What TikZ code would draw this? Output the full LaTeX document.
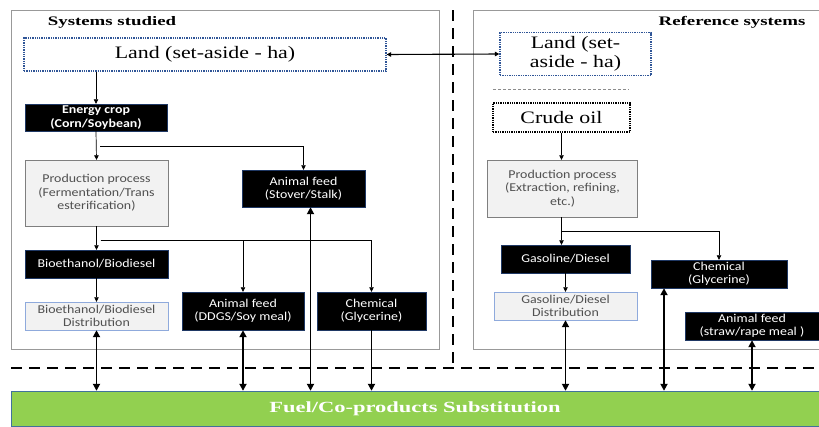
\documentclass[tikz,border=0pt]{standalone}
\usepackage{fontspec}
\setmainfont{Liberation Serif}[FakeStretch=1.25]
\setsansfont{Carlito}[FakeStretch=1.16]
\newfontfamily\headfont{Liberation Serif}[FakeStretch=1.45]
\usetikzlibrary{arrows.meta}

\begin{document}
\begin{tikzpicture}
			[x=1pt,y=-1pt,line cap=butt,>={Triangle[length=4.5pt,width=4.5pt]},
			%Styles
			frame/.style={draw=framegray,line width=0.8pt},
			title text/.style={font=\headfont\bfseries\fontsize{13}{15}\selectfont},
			land box/.style={draw=landblue,densely dotted,line width=1.3pt,align=center,inner sep=0pt,font=\fontsize{17.5}{19.5}\selectfont},
			black box/.style={draw=boxedge,fill=black,text=white,align=center,inner sep=0pt,font=\sffamily\fontsize{12}{13.5}\selectfont},
			gray box/.style={draw=graybord,fill=boxfill,text=textgray,align=center,inner sep=0pt,font=\sffamily\fontsize{12}{13.5}\selectfont},
			dist box/.style={gray box,draw=distblue},
			flow/.style={->,line width=0.7pt},
			exchange/.style={line width=1.8pt,{Triangle[length=7pt,width=7pt]}-{Triangle[length=7pt,width=7pt]}},
			boundary/.style={line width=2.2pt,dash pattern=on 11pt off 7pt}
			]
			
			%Colors
			\colorlet{framegray}{black!40}
			\definecolor{landblue}{RGB}{47,85,151}
			\definecolor{boxedge}{RGB}{31,56,100}
			\definecolor{graybord}{RGB}{127,127,127}
			\definecolor{boxfill}{RGB}{242,242,242}
			\definecolor{textgray}{RGB}{80,80,80}
			\definecolor{distblue}{RGB}{143,170,220}
			\definecolor{subgreen}{RGB}{146,208,80}
			\definecolor{baredge}{RGB}{65,113,156}
			
			\useasboundingbox (0,0) rectangle (819,426);
			
			%The frames
			\draw[frame] (11,10) rectangle (439,349);
			\draw[frame] (473,10) rectangle (830,349);
			\node[title text] (titleL) at (112,22) {Systems studied};
			\node[title text] (titleR) at (732,22) {Reference systems};
			
			%Systems studied
			\node[land box,minimum width=362,minimum height=33] (landL) at (205,54.5) {Land (set-aside - ha)};
			\node[black box,minimum width=142,minimum height=27,font=\sffamily\bfseries\fontsize{12}{13.5}\selectfont] (crop) at (96,117.5) {Energy crop\\(Corn/Soybean)};
			\node[gray box,minimum width=143,minimum height=66] (procL) at (96.5,193) {Production process\\(Fermentation/Trans\\esterification)};
			\node[black box,minimum width=123,minimum height=37] (feedS) at (303.5,188.5) {Animal feed\\(Stover/Stalk)};
			\node[black box,minimum width=143,minimum height=28] (bio) at (96.5,264) {Bioethanol/Biodiesel};
			\node[dist box,minimum width=143,minimum height=28] (distL) at (96.5,316) {Bioethanol/Biodiesel\\Distribution};
			\node[black box,minimum width=122,minimum height=38] (feedD) at (243,311) {Animal feed\\(DDGS/Soy meal)};
			\node[black box,minimum width=109,minimum height=38] (chemL) at (371.5,311) {Chemical\\(Glycerine)};
			
			%Reference systems
			\node[land box,minimum width=151,minimum height=43] (landR) at (575.5,54) {Land (set-\\aside - ha)};
			\node[land box,draw=black,minimum width=137,minimum height=29] (crude) at (561.5,117.5) {Crude oil};
			\node[gray box,minimum width=150,minimum height=57] (procR) at (562.5,188.5) {Production process\\(Extraction, refining,\\etc.)};
			\node[black box,minimum width=129,minimum height=28] (gas) at (565.5,259) {Gasoline/Diesel};
			\node[dist box,minimum width=143,minimum height=28] (distR) at (565.5,306) {Gasoline/Diesel\\Distribution};
			\node[black box,minimum width=136,minimum height=28] (chemR) at (719,274) {Chemical\\(Glycerine)};
			\node[black box,minimum width=134,minimum height=28] (feedR) at (752,326) {Animal feed\\(straw/rape meal )};
			\draw[black!45,densely dashed,line width=0.6pt] (crude.north west) ++(1,-13) coordinate (sepL) -- ++(136,0) coordinate (sepR);
			
			%Substitution bar
			\node[draw=baredge,fill=subgreen,text=white,minimum width=808,minimum height=35,inner sep=0pt,font=\headfont\bfseries\fontsize{15.5}{17}\selectfont] (subst) at (415,408.5) {Fuel/Co-products Substitution};
			
			%Boundaries
			\draw[boundary] (453,10) -- (453,368);
			\draw[boundary] (11,368) -- (819,368);
			
			%Flows, systems studied
			\draw[flow] (crop.north |- landL.south) -- (crop.north);
			\draw[flow] (crop.south) -- (procL.north);
			\draw[flow] (crop.south) ++(4,15) -| (feedS.north);
			\draw[flow] (procL.south) -- (bio.north);
			\draw[flow] (procL.south) ++(4,14) -| (feedD.north);
			\draw[flow] (procL.south) ++(4,14) -| (chemL.north);
			\draw[flow] (bio.south) -- (distL.north);
			
			%Flows, reference systems
			\draw[<->,line width=1.1pt] (landL.east) -- (landR.west);
			\draw[flow] (crude.south) -- (crude.south |- procR.north);
			\draw[flow] (crude.south |- procR.south) -- (crude.south |- gas.north);
			\draw[flow] (crude.south |- procR.south) ++(0,14) -| (chemR.north);
			\draw[flow] (gas.south) -- (distR.north);
			
			%Exchanges with the substitution bar
			\draw[exchange] (distL.south) -- (distL.south |- subst.north);
			\draw[exchange] (feedD.south) -- (feedD.south |- subst.north);
			\draw[exchange] ([xshift=7]feedS.south) -- ([xshift=7]feedS.south |- subst.north);
			\draw[line width=1.8pt,-{Triangle[length=7pt,width=7pt]}] (chemL.south) -- (chemL.south |- subst.north);
			\draw[exchange] (distR.south) -- (distR.south |- subst.north);
			\draw[exchange] ([xshift=-55]chemR.south) -- ([xshift=-55]chemR.south |- subst.north);
			\draw[exchange] (feedR.south) -- (feedR.south |- subst.north);
		\end{tikzpicture}
\end{document}
